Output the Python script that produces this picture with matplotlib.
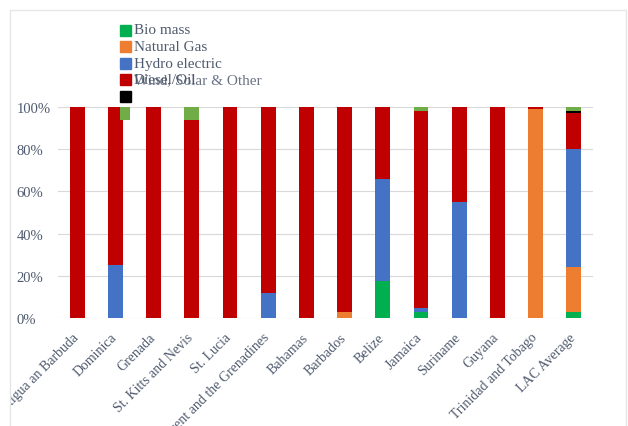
import numpy as np
import matplotlib
matplotlib.use("Agg")
import matplotlib.pyplot as plt
from matplotlib.patches import Rectangle
from matplotlib.transforms import ScaledTranslation

# data (shares in %)
countries = ["Antigua an Barbuda", "Dominica", "Grenada", "St. Kitts and Nevis",
             "St. Lucia", "Saint Vincent and the Grenadines", "Bahamas", "Barbados",
             "Belize", "Jamaica", "Suriname", "Guyana", "Trinidad and Tobago",
             "LAC Average"]
bio_mass = [0, 0, 0, 0, 0, 0, 0, 0, 17.3, 2.9, 0, 0, 0, 2.9]
natural_gas = [0, 0, 0, 0, 0, 0, 0, 2.9, 0, 0, 0, 0, 98.9, 21.1]
hydro = [0, 25, 0, 0, 0, 12, 0, 0, 48.6, 1.9, 54.8, 0, 0, 56.0]
diesel_oil = [100, 75, 100, 94, 100, 88, 100, 97.1, 34.1, 93.1, 45.2, 100, 1.1, 17.2]
coal = [0, 0, 0, 0, 0, 0, 0, 0, 0, 0, 0, 0, 0, 0.8]
wind_solar = [0, 6, 0, 6, 0, 0, 0, 0, 0, 2.1, 0, 0, 0, 2.0]

legend_names = ["Bio mass", "Natural Gas", "Hydro electric", "Diesel/Oil", ""]
legend_colors = ["#00B050", "#ED7D31", "#4472C4", "#C00000", "#000000"]

text_color = "#4F5A6E"
plt.rcParams['font.family'] = ['Liberation Serif', 'DejaVu Serif']

W, H = 628, 427
fig = plt.figure(figsize=(W / 100, H / 100), dpi=100)
ax = fig.add_axes([58 / W, (H - 319) / H, 535 / W, 211 / H])

x = np.arange(len(countries))
bw = 0.39
bottom = np.zeros(len(countries))
for vals, col in zip([bio_mass, natural_gas, hydro, diesel_oil, coal],
                     ["#00B050", "#ED7D31", "#4472C4", "#C00000", "#000000"]):
    v = np.array(vals) / 100
    ax.bar(x, v, bw, bottom=bottom, color=col, zorder=3)
    bottom += v

# wind/solar sits on the top of each bar; Dominica's piece is drawn shifted
ws = np.array(wind_solar) / 100
shift = np.zeros(len(countries))
width = np.full(len(countries), bw)
shift[1] = 0.25
width[1] = 0.26
ax.bar(x + shift, ws, width, bottom=1 - ws, color="#70AD47", zorder=4)

ax.set_xlim(-0.5, len(countries) - 0.5)
ax.set_ylim(0, 1)
ax.set_yticks(np.linspace(0, 1, 6))
ax.set_yticklabels([f"{int(t * 100)}%" for t in np.linspace(0, 1, 6)],
                   fontsize=10.5, color=text_color, ha="left")
ax.tick_params(axis="y", length=0, pad=30)
ax.grid(axis="y", color="#D9D9D9", lw=0.8, zorder=0)
for s in ax.spines.values():
    s.set_visible(False)

ax.set_xticks(x)
ax.set_xticklabels(countries, rotation=45, ha="right", va="top",
                   fontsize=10, color=text_color)
ax.tick_params(axis="x", length=0, pad=9)
nudge = ScaledTranslation(4 / 100, 0, fig.dpi_scale_trans)
clip = Rectangle((10 / W, 0), 1, 1, transform=fig.transFigure, visible=False)
fig.patches.append(clip)
for lab in ax.get_xticklabels():
    lab.set_transform(lab.get_transform() + nudge)
    lab.set_clip_path(clip)

# legend drawn by hand (overlapping like the original)
for i, (name, col) in enumerate(zip(legend_names, legend_colors)):
    yc = 31 + 16.6 * i
    fig.patches.append(Rectangle((120 / W, 1 - (yc + 5.5) / H), 11 / W, 11 / H,
                                 transform=fig.transFigure, color=col))
    fig.text(134 / W, 1 - yc / H, name, fontsize=11, color=text_color, va="center")
fig.text(134 / W, 1 - (31 + 16.6 * 3) / H, "Wind, Solar & Other", fontsize=11,
         color=text_color, va="center", alpha=0.85)

# faint frame
fig.patches.append(Rectangle((10 / W, -0.01), (W - 12) / W, 1 - 11 / H + 0.01,
                             transform=fig.transFigure, fill=False,
                             edgecolor="#E6E6E6", lw=1))

fig.savefig("out.png", dpi=100)
